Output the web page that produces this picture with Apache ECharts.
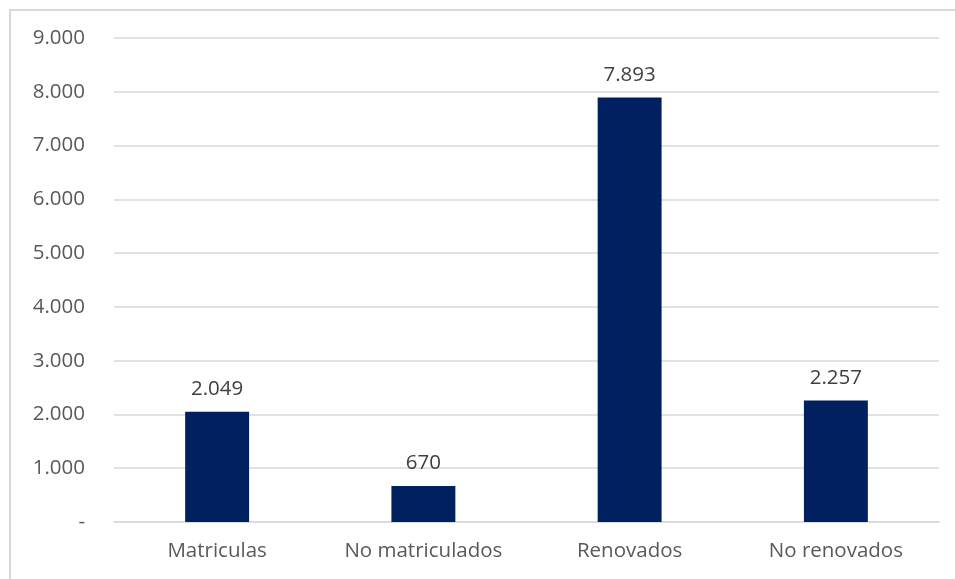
<!DOCTYPE html>
<html><head><meta charset="utf-8">
<script src="https://cdn.jsdelivr.net/npm/echarts@6/dist/echarts.min.js"></script>
<style>html,body{margin:0;padding:0;background:#fff}
#frame{position:absolute;left:9px;top:9px;width:960px;height:590px;border:2px solid #d9d9d9;box-sizing:border-box}
#c{position:absolute;left:0;top:0;width:955px;height:579px}</style>
</head><body><div id="frame"></div><div id="c"></div>
<script>
const categories = ["Matriculas", "No matriculados", "Renovados", "No renovados"];
const values = [2049, 670, 7893, 2257];
const yTicks = [0, 1000, 2000, 3000, 4000, 5000, 6000, 7000, 8000, 9000];

function fmt(v){ if(v===0) return "-"; return String(v).replace(/\B(?=(\d{3})+(?!\d))/g, "."); }
const F = 'Open Sans';
const chart = echarts.init(document.getElementById('c'));
chart.setOption({
  animation:false,
  grid:{left:114,right:16,top:38,bottom:57},
  xAxis:{type:'category',data:categories,axisTick:{show:false},
    axisLine:{lineStyle:{color:'#d9d9d9',width:1.5}},
    axisLabel:{color:'#595959',fontSize:20.5,fontFamily:F,margin:19}},
  yAxis:{type:'value',min:yTicks[0],max:yTicks[yTicks.length-1],interval:1000,
    axisLine:{show:false},axisTick:{show:false},
    splitLine:{lineStyle:{color:'#d9d9d9',width:1.5}},
    axisLabel:{color:'#595959',fontSize:20.5,fontFamily:F,margin:29,formatter:fmt}},
  series:[{type:'bar',data:values,barWidth:'31%',
    itemStyle:{color:'#002060'},
    label:{show:true,position:'top',distance:12,color:'#404040',fontSize:20.5,fontFamily:F,formatter:p=>fmt(p.value)}}]
});
</script></body></html>
